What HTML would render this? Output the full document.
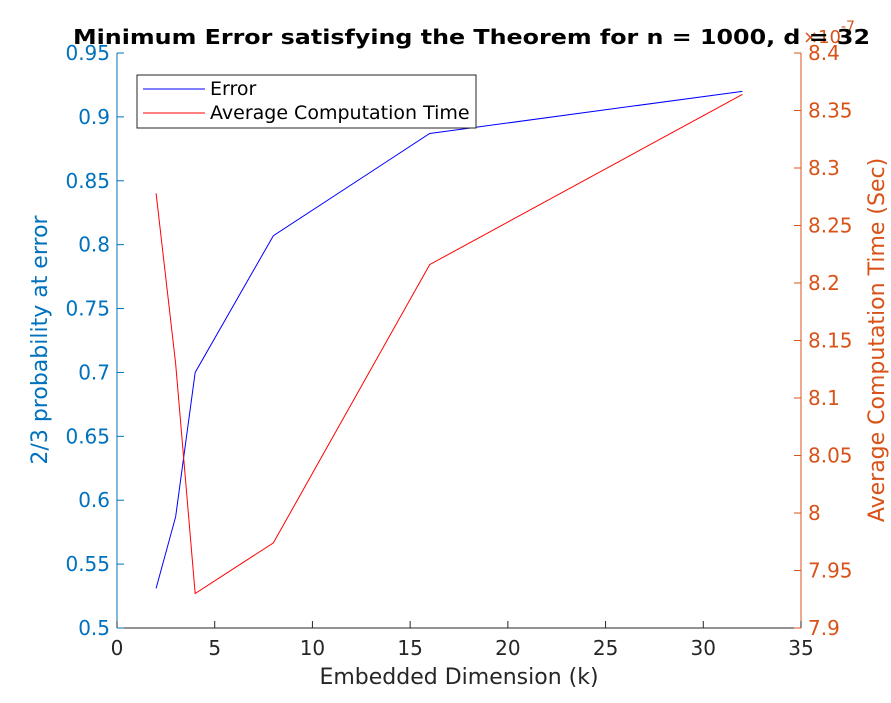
<!DOCTYPE html>
<html><head><meta charset="utf-8"><style>body{margin:0;background:#fff}svg{display:block;font-family:"DejaVu Sans",sans-serif}</style></head>
<body>
<svg id="c" width="891" height="703"></svg>
<script>
const kValues=[2,3,4,8,16,32];
const errorValues=[0.531,0.587,0.700,0.807,0.887,0.920];
const timeValues=[8.278,8.130,7.930,7.974,8.216,8.364];
const xTicks=[0,5,10,15,20,25,30,35];
const yLeftTicks=[0.5,0.55,0.6,0.65,0.7,0.75,0.8,0.85,0.9,0.95];
const yRightTicks=[7.9,7.95,8,8.05,8.1,8.15,8.2,8.25,8.3,8.35,8.4];
const L=117,R=801,T=53,B=628;
const x=v=>L+(v-0)/35*(R-L);
const yl=v=>B-(v-0.5)/0.45*(B-T);
const yr=v=>B-(v-7.9)/0.5*(B-T);
const s=document.getElementById('c');const NS='http://www.w3.org/2000/svg';
function el(t,a,txt){const e=document.createElementNS(NS,t);for(const k in a)e.setAttribute(k,a[k]);if(txt!==undefined)e.textContent=txt;s.appendChild(e);return e;}
const bx=el('line',{x1:L,y1:B,x2:R,y2:B,stroke:'#262626'});


const ly=el('line',{x1:L,y1:T,x2:L,y2:B,stroke:'#0072bd'});


const ry=el('line',{x1:R,y1:T,x2:R,y2:B,stroke:'#d95319'});


xTicks.forEach(v=>{el('line',{x1:x(v),y1:B,x2:x(v),y2:B-7,stroke:'#262626'});
const t=el('text',{x:x(v),y:B+27,'text-anchor':'middle','font-size':20,fill:'#262626'},String(v));

});
yLeftTicks.forEach(v=>{el('line',{x1:L,y1:yl(v),x2:L+7,y2:yl(v),stroke:'#0072bd'});
const t=el('text',{x:L-7,y:yl(v)+7,'text-anchor':'end','font-size':20,fill:'#0072bd'},String(v));

});
yRightTicks.forEach(v=>{el('line',{x1:R,y1:yr(v),x2:R-7,y2:yr(v),stroke:'#d95319'});
const t=el('text',{x:R+7,y:yr(v)+7,'text-anchor':'start','font-size':20,fill:'#d95319'},String(v));

});
const ex=el('text',{x:R+2,y:43,'font-size':18,fill:'#d95319'},'×10');


el('text',{x:R+40,y:31,'font-size':14,fill:'#d95319'},'-7');
const pe=el('polyline',{points:kValues.map((k,i)=>x(k)+','+yl(errorValues[i])).join(' '),fill:'none',stroke:'#0000ff','stroke-width':1});


const pt=el('polyline',{points:kValues.map((k,i)=>x(k)+','+yr(timeValues[i])).join(' '),fill:'none',stroke:'#ff0000','stroke-width':1});


const ti=el('text',{x:73,y:44,'font-size':20,'font-weight':'bold',fill:'#000',textLength:797,lengthAdjust:'spacingAndGlyphs'},'Minimum Error satisfying the Theorem for n = 1000, d = 32');


const xt=el('text',{x:459,y:684,'text-anchor':'middle','font-size':22,fill:'#262626'},'Embedded Dimension (k)');


const yt=el('text',{x:0,y:0,'text-anchor':'middle','font-size':22,fill:'#0072bd',transform:'translate(47,340) rotate(-90)'},'2/3 probability at error');


const yt2=el('text',{x:0,y:0,'text-anchor':'middle','font-size':22,fill:'#d95319',transform:'translate(884,340) rotate(-90)'},'Average Computation Time (Sec)');


const lg=el('rect',{x:137,y:75,width:339,height:53,fill:'#fff',stroke:'#262626','stroke-width':1});


el('line',{x1:143,y1:89,x2:205,y2:89,stroke:'#0000ff'});
const l1=el('text',{x:210,y:95,'font-size':19,fill:'#000'},'Error');


el('line',{x1:143,y1:113,x2:205,y2:113,stroke:'#ff0000'});
const l2=el('text',{x:210,y:119,'font-size':19,fill:'#000'},'Average Computation Time');


</script>
</body></html>
